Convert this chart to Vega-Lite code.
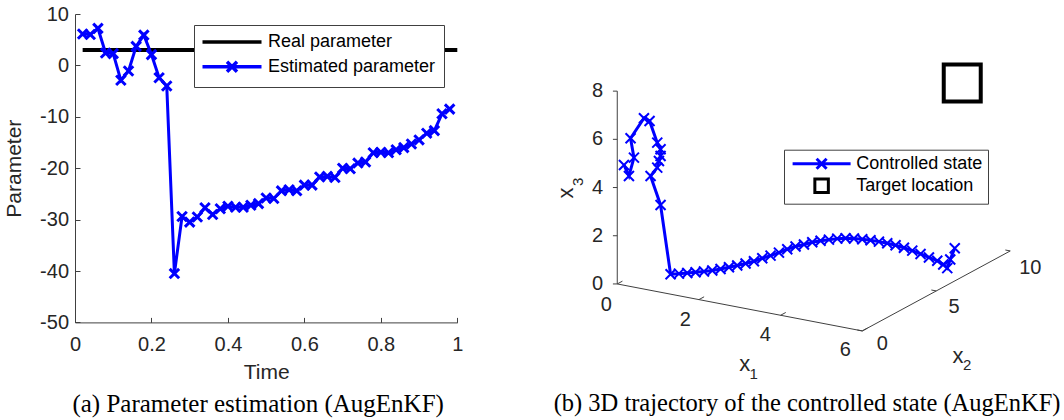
{
  "$schema": "https://vega.github.io/schema/vega-lite/v6.json",
  "padding": {"left": 3, "top": 4, "right": 0, "bottom": 0},
  "spacing": 87,
  "background": "white",
  "config": {
    "view": {"stroke": null},
    "font": "Liberation Sans",
    "axis": {"grid": false}
  },
  "resolve": {
    "scale": {"x": "independent", "y": "independent", "color": "independent", "shape": "independent"},
    "legend": {"color": "independent", "shape": "independent"}
  },
  "datasets": {
    "param": [
      {"t": 0.02, "value": 3, "series": "Real parameter"},
      {"t": 1.0, "value": 3, "series": "Real parameter"},
      {"t": 0.02, "value": 6.1, "series": "Estimated parameter"},
      {"t": 0.04, "value": 6.0, "series": "Estimated parameter"},
      {"t": 0.06, "value": 7.2, "series": "Estimated parameter"},
      {"t": 0.08, "value": 2.4, "series": "Estimated parameter"},
      {"t": 0.10, "value": 2.3, "series": "Estimated parameter"},
      {"t": 0.12, "value": -2.9, "series": "Estimated parameter"},
      {"t": 0.14, "value": -1.1, "series": "Estimated parameter"},
      {"t": 0.16, "value": 3.7, "series": "Estimated parameter"},
      {"t": 0.18, "value": 5.9, "series": "Estimated parameter"},
      {"t": 0.20, "value": 2.1, "series": "Estimated parameter"},
      {"t": 0.22, "value": -2.4, "series": "Estimated parameter"},
      {"t": 0.24, "value": -4.0, "series": "Estimated parameter"},
      {"t": 0.26, "value": -40.5, "series": "Estimated parameter"},
      {"t": 0.28, "value": -29.4, "series": "Estimated parameter"},
      {"t": 0.30, "value": -30.5, "series": "Estimated parameter"},
      {"t": 0.32, "value": -29.5, "series": "Estimated parameter"},
      {"t": 0.34, "value": -27.7, "series": "Estimated parameter"},
      {"t": 0.36, "value": -29.0, "series": "Estimated parameter"},
      {"t": 0.38, "value": -27.9, "series": "Estimated parameter"},
      {"t": 0.40, "value": -27.4, "series": "Estimated parameter"},
      {"t": 0.42, "value": -27.6, "series": "Estimated parameter"},
      {"t": 0.44, "value": -27.6, "series": "Estimated parameter"},
      {"t": 0.46, "value": -27.2, "series": "Estimated parameter"},
      {"t": 0.48, "value": -26.9, "series": "Estimated parameter"},
      {"t": 0.50, "value": -25.8, "series": "Estimated parameter"},
      {"t": 0.52, "value": -25.9, "series": "Estimated parameter"},
      {"t": 0.54, "value": -24.4, "series": "Estimated parameter"},
      {"t": 0.56, "value": -24.2, "series": "Estimated parameter"},
      {"t": 0.58, "value": -24.4, "series": "Estimated parameter"},
      {"t": 0.60, "value": -23.3, "series": "Estimated parameter"},
      {"t": 0.62, "value": -23.3, "series": "Estimated parameter"},
      {"t": 0.64, "value": -21.7, "series": "Estimated parameter"},
      {"t": 0.66, "value": -21.6, "series": "Estimated parameter"},
      {"t": 0.68, "value": -21.8, "series": "Estimated parameter"},
      {"t": 0.70, "value": -20.0, "series": "Estimated parameter"},
      {"t": 0.72, "value": -20.1, "series": "Estimated parameter"},
      {"t": 0.74, "value": -19.0, "series": "Estimated parameter"},
      {"t": 0.76, "value": -18.8, "series": "Estimated parameter"},
      {"t": 0.78, "value": -17.0, "series": "Estimated parameter"},
      {"t": 0.80, "value": -16.9, "series": "Estimated parameter"},
      {"t": 0.82, "value": -17.0, "series": "Estimated parameter"},
      {"t": 0.84, "value": -16.4, "series": "Estimated parameter"},
      {"t": 0.86, "value": -16.0, "series": "Estimated parameter"},
      {"t": 0.88, "value": -15.3, "series": "Estimated parameter"},
      {"t": 0.90, "value": -14.5, "series": "Estimated parameter"},
      {"t": 0.92, "value": -13.2, "series": "Estimated parameter"},
      {"t": 0.94, "value": -12.7, "series": "Estimated parameter"},
      {"t": 0.96, "value": -9.4, "series": "Estimated parameter"},
      {"t": 0.98, "value": -8.5, "series": "Estimated parameter"}
    ],
    "traj": [
      {"k": 1, "u": 0.278, "v": 4.938, "series": "Controlled state"}, {"k": 2, "u": 0.485, "v": 4.481, "series": "Controlled state"},
      {"k": 3, "u": 0.693, "v": 5.241, "series": "Controlled state"}, {"k": 4, "u": 0.552, "v": 6.046, "series": "Controlled state"},
      {"k": 5, "u": 1.108, "v": 6.876, "series": "Controlled state"}, {"k": 6, "u": 1.340, "v": 6.763, "series": "Controlled state"},
      {"k": 7, "u": 1.660, "v": 5.863, "series": "Controlled state"}, {"k": 8, "u": 1.797, "v": 5.589, "series": "Controlled state"},
      {"k": 9, "u": 1.797, "v": 5.311, "series": "Controlled state"}, {"k": 10, "u": 1.730, "v": 5.104, "series": "Controlled state"},
      {"k": 11, "u": 1.660, "v": 4.826, "series": "Controlled state"}, {"k": 12, "u": 1.382, "v": 4.481, "series": "Controlled state"},
      {"k": 13, "u": 1.797, "v": 3.278, "series": "Controlled state"}, {"k": 14, "u": 2.212, "v": 0.402, "series": "Controlled state"},
      {"k": 15, "u": 2.560, "v": 0.427, "series": "Controlled state"}, {"k": 16, "u": 2.905, "v": 0.456, "series": "Controlled state"},
      {"k": 17, "u": 3.249, "v": 0.485, "series": "Controlled state"}, {"k": 18, "u": 3.598, "v": 0.519, "series": "Controlled state"},
      {"k": 19, "u": 3.942, "v": 0.560, "series": "Controlled state"}, {"k": 20, "u": 4.286, "v": 0.622, "series": "Controlled state"},
      {"k": 21, "u": 4.635, "v": 0.693, "series": "Controlled state"}, {"k": 22, "u": 4.979, "v": 0.768, "series": "Controlled state"},
      {"k": 23, "u": 5.324, "v": 0.851, "series": "Controlled state"}, {"k": 24, "u": 5.672, "v": 0.942, "series": "Controlled state"},
      {"k": 25, "u": 6.017, "v": 1.066, "series": "Controlled state"}, {"k": 26, "u": 6.361, "v": 1.174, "series": "Controlled state"},
      {"k": 27, "u": 6.710, "v": 1.299, "series": "Controlled state"}, {"k": 28, "u": 7.054, "v": 1.440, "series": "Controlled state"},
      {"k": 29, "u": 7.398, "v": 1.556, "series": "Controlled state"}, {"k": 30, "u": 7.747, "v": 1.639, "series": "Controlled state"},
      {"k": 31, "u": 8.091, "v": 1.730, "series": "Controlled state"}, {"k": 32, "u": 8.436, "v": 1.793, "series": "Controlled state"},
      {"k": 33, "u": 8.784, "v": 1.838, "series": "Controlled state"}, {"k": 34, "u": 9.129, "v": 1.880, "series": "Controlled state"},
      {"k": 35, "u": 9.473, "v": 1.896, "series": "Controlled state"}, {"k": 36, "u": 9.822, "v": 1.888, "series": "Controlled state"},
      {"k": 37, "u": 10.166, "v": 1.855, "series": "Controlled state"}, {"k": 38, "u": 10.510, "v": 1.813, "series": "Controlled state"},
      {"k": 39, "u": 10.859, "v": 1.755, "series": "Controlled state"}, {"k": 40, "u": 11.203, "v": 1.689, "series": "Controlled state"},
      {"k": 41, "u": 11.548, "v": 1.606, "series": "Controlled state"}, {"k": 42, "u": 11.896, "v": 1.502, "series": "Controlled state"},
      {"k": 43, "u": 12.241, "v": 1.382, "series": "Controlled state"}, {"k": 44, "u": 12.585, "v": 1.245, "series": "Controlled state"},
      {"k": 45, "u": 12.934, "v": 1.100, "series": "Controlled state"}, {"k": 46, "u": 13.278, "v": 0.963, "series": "Controlled state"},
      {"k": 47, "u": 13.527, "v": 0.809, "series": "Controlled state"}, {"k": 48, "u": 13.693, "v": 0.656, "series": "Controlled state"},
      {"k": 49, "u": 13.817, "v": 1.017, "series": "Controlled state"}, {"k": 50, "u": 14.004, "v": 1.481, "series": "Controlled state"}
    ],
    "target": [{"u": 14.315, "v": 8.34, "series": "Target location"}],
    "axes3d": [
      {"u": 0, "v": 0, "u2": 0, "v2": 8},
      {"u": 0, "v": 0, "u2": 10.166, "v2": -1.950},
      {"u": 10.166, "v": -1.950, "u2": 16.307, "v2": 1.369},
      {"u": 0, "v": 0, "u2": -0.18, "v2": 0},
      {"u": 0, "v": 2, "u2": -0.18, "v2": 2},
      {"u": 0, "v": 4, "u2": -0.18, "v2": 4},
      {"u": 0, "v": 6, "u2": -0.18, "v2": 6},
      {"u": 0, "v": 8, "u2": -0.18, "v2": 8},
      {"u": 0, "v": 0, "u2": 0.215, "v2": 0.116},
      {"u": 3.389, "v": -0.650, "u2": 3.604, "v2": -0.534},
      {"u": 6.777, "v": -1.300, "u2": 6.992, "v2": -1.184},
      {"u": 10.166, "v": -1.950, "u2": 10.381, "v2": -1.834},
      {"u": 10.166, "v": -1.950, "u2": 9.963, "v2": -1.911},
      {"u": 13.237, "v": -0.291, "u2": 13.034, "v2": -0.252},
      {"u": 16.307, "v": 1.369, "u2": 16.104, "v2": 1.408}
    ],
    "ticks3d": [
      {"u": -0.82, "v": 0, "text": "0"},
      {"u": -0.82, "v": 2, "text": "2"},
      {"u": -0.82, "v": 4, "text": "4"},
      {"u": -0.82, "v": 6, "text": "6"},
      {"u": -0.82, "v": 8, "text": "8"},
      {"u": -0.456, "v": -0.871, "text": "0"},
      {"u": 2.822, "v": -1.494, "text": "2"},
      {"u": 6.141, "v": -2.116, "text": "4"},
      {"u": 9.461, "v": -2.739, "text": "6"},
      {"u": 10.996, "v": -2.510, "text": "0"},
      {"u": 13.971, "v": -0.946, "text": "5"},
      {"u": 17.137, "v": 0.676, "text": "10"}
    ],
    "names3d": [
      {"u": 5.290, "v": -3.340, "text": "x", "part": "main"},
      {"u": 5.664, "v": -3.734, "text": "1", "part": "sub"},
      {"u": 14.141, "v": -2.988, "text": "x", "part": "main"},
      {"u": 14.523, "v": -3.361, "text": "2", "part": "sub"},
      {"u": -2.116, "v": 3.776, "text": "x", "part": "mainr"},
      {"u": -1.618, "v": 4.232, "text": "3", "part": "subr"}
    ]
  },
  "hconcat": [
    {
      "width": 382.3,
      "height": 308.4,
      "data": {"name": "param"},
      "title": {
        "text": "(a) Parameter estimation (AugEnKF)",
        "orient": "bottom", "frame": "group", "anchor": "middle",
        "font": "Liberation Serif", "fontSize": 25, "fontWeight": "normal",
        "color": "black", "offset": 10, "dx": -8
      },
      "encoding": {
        "x": {
          "field": "t", "type": "quantitative",
          "scale": {"domain": [0, 1], "nice": false, "zero": false},
          "axis": {
            "values": [0, 0.2, 0.4, 0.6, 0.8, 1],
            "labelExpr": "toString(datum.value)",
            "title": "Time", "titleFontSize": 21, "titleFontWeight": "normal", "titleColor": "#262626",
            "labelFontSize": 20, "labelColor": "#262626",
            "tickSize": -5, "labelPadding": 17, "titlePadding": 7,
            "domainColor": "#404040", "tickColor": "#404040",
            "labelFlush": false, "labelOverlap": false
          }
        },
        "y": {
          "field": "value", "type": "quantitative",
          "scale": {"domain": [-50, 10], "nice": false, "zero": false},
          "axis": {
            "values": [-50, -40, -30, -20, -10, 0, 10],
            "labelExpr": "toString(datum.value)",
            "title": "Parameter", "titleFontSize": 21, "titleFontWeight": "normal", "titleColor": "#262626",
            "labelFontSize": 20, "labelColor": "#262626",
            "tickSize": -5, "labelPadding": 11.5, "titlePadding": 15,
            "domainColor": "#404040", "tickColor": "#404040",
            "labelFlush": false, "labelOverlap": false
          }
        },
        "color": {
          "field": "series", "type": "nominal",
          "scale": {"domain": ["Real parameter", "Estimated parameter"], "range": ["#000000", "#0000ff"]},
          "legend": {
            "orient": "none", "legendX": 119, "legendY": 11, "title": null,
            "padding": 8, "rowPadding": 3.7,
            "labelFontSize": 18, "labelColor": "black", "labelLimit": 400,
            "fillColor": "white", "strokeColor": "#404040",
            "symbolSize": 100, "symbolStrokeWidth": 3.5, "symbolOffset": 21, "labelOffset": 27
          }
        }
      },
      "layer": [
        {"transform": [{"filter": "datum.series === 'Real parameter'"}], "mark": {"type": "line", "strokeWidth": 4}},
        {"transform": [{"filter": "datum.series === 'Estimated parameter'"}], "mark": {"type": "line", "strokeWidth": 3}},
        {"transform": [{"filter": "datum.series === 'Estimated parameter'"}], "mark": {"type": "point", "shape": "M-1,-1L1,1M-1,1L1,-1", "size": 90, "strokeWidth": 3, "filled": false, "opacity": 1}},
        {
          "transform": [{"filter": "false"}],
          "mark": {"type": "point", "size": 100, "strokeWidth": 3.5, "filled": false, "opacity": 1},
          "encoding": {
            "shape": {
              "field": "series", "type": "nominal",
              "scale": {"domain": ["Real parameter", "Estimated parameter"], "range": ["M-5.9,0H5.9", "M-5.9,0H5.9M-1,-1L1,1M-1,1L1,-1"]},
              "legend": {
                "orient": "none", "legendX": 119, "legendY": 11, "title": null,
                "padding": 8, "rowPadding": 3.7,
                "labelFontSize": 18, "labelColor": "black", "labelLimit": 400,
                "fillColor": "white", "strokeColor": "#404040",
                "symbolSize": 100, "symbolStrokeWidth": 3.5, "symbolOffset": 21, "labelOffset": 27
              }
            }
          }
        }
      ]
    },
    {
      "width": 506.1,
      "height": 308.5,
      "title": {
        "text": "(b) 3D trajectory of the controlled state (AugEnKF)",
        "orient": "bottom", "frame": "group", "anchor": "middle",
        "font": "Liberation Serif", "fontSize": 24.5, "fontWeight": "normal",
        "color": "black", "offset": 10, "dx": -3
      },
      "encoding": {
        "x": {"field": "u", "type": "quantitative", "scale": {"domain": [-2.5, 18.5], "nice": false, "zero": false}, "axis": null},
        "y": {"field": "v", "type": "quantitative", "scale": {"domain": [-1.6, 11.2], "nice": false, "zero": false}, "axis": null}
      },
      "layer": [
        {
          "data": {"name": "axes3d"},
          "mark": {"type": "rule", "color": "#404040", "strokeWidth": 1},
          "encoding": {"x2": {"field": "u2"}, "y2": {"field": "v2"}}
        },
        {
          "data": {"name": "ticks3d"},
          "mark": {"type": "text", "fontSize": 20, "color": "#262626", "align": "center", "baseline": "middle"},
          "encoding": {"text": {"field": "text"}}
        },
        {
          "data": {"name": "names3d"},
          "transform": [{"filter": "datum.part === 'main'"}],
          "mark": {"type": "text", "fontSize": 22, "color": "#262626", "align": "center", "baseline": "middle"},
          "encoding": {"text": {"field": "text"}}
        },
        {
          "data": {"name": "names3d"},
          "transform": [{"filter": "datum.part === 'sub'"}],
          "mark": {"type": "text", "fontSize": 15, "color": "#262626", "align": "center", "baseline": "middle"},
          "encoding": {"text": {"field": "text"}}
        },
        {
          "data": {"name": "names3d"},
          "transform": [{"filter": "datum.part === 'mainr'"}],
          "mark": {"type": "text", "fontSize": 22, "color": "#262626", "align": "center", "baseline": "middle", "angle": 270},
          "encoding": {"text": {"field": "text"}}
        },
        {
          "data": {"name": "names3d"},
          "transform": [{"filter": "datum.part === 'subr'"}],
          "mark": {"type": "text", "fontSize": 15, "color": "#262626", "align": "center", "baseline": "middle", "angle": 270},
          "encoding": {"text": {"field": "text"}}
        },
        {
          "data": {"name": "traj"},
          "mark": {"type": "line", "strokeWidth": 3},
          "encoding": {
            "order": {"field": "k", "type": "quantitative"},
            "color": {
              "field": "series", "type": "nominal",
              "scale": {"domain": ["Controlled state", "Target location"], "range": ["#0000ff", "#000000"]},
              "legend": {
                "orient": "none", "legendX": 227, "legendY": 135.7, "title": null,
                "padding": 5, "rowPadding": -2,
                "labelFontSize": 18, "labelColor": "black", "labelLimit": 400,
                "fillColor": "white", "strokeColor": "#404040",
                "symbolSize": 100, "symbolStrokeWidth": 3, "symbolOffset": 23.6, "labelOffset": 25.7
              }
            }
          }
        },
        {
          "data": {"name": "traj"},
          "mark": {"type": "point", "shape": "M-1,-1L1,1M-1,1L1,-1", "size": 100, "strokeWidth": 2, "filled": false, "opacity": 1},
          "encoding": {"color": {"field": "series", "type": "nominal"}}
        },
        {
          "data": {"name": "target"},
          "mark": {"type": "point", "size": 751, "strokeWidth": 4, "filled": false, "opacity": 1},
          "encoding": {
            "color": {"field": "series", "type": "nominal"},
            "shape": {
              "field": "series", "type": "nominal",
              "scale": {"domain": ["Controlled state", "Target location"], "range": ["M-5.8,0H5.8M-1,-1L1,1M-1,1L1,-1", "M-1.35,-1.35H1.35V1.35H-1.35Z"]},
              "legend": {
                "orient": "none", "legendX": 227, "legendY": 135.7, "title": null,
                "padding": 5, "rowPadding": -2,
                "labelFontSize": 18, "labelColor": "black", "labelLimit": 400,
                "fillColor": "white", "strokeColor": "#404040",
                "symbolSize": 100, "symbolStrokeWidth": 3, "symbolOffset": 23.6, "labelOffset": 25.7
              }
            }
          }
        }
      ]
    }
  ]
}
